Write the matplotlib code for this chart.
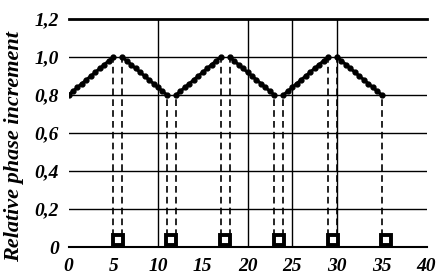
import matplotlib
matplotlib.use("Agg")
import matplotlib.pyplot as plt

# Segments of the phase-increment curve (x, y)
seg_x = [
    [0, 0.5, 1, 1.5, 2, 2.5, 3, 3.5, 4, 4.5, 5],
    [6, 6.5, 7, 7.5, 8, 8.5, 9, 9.5, 10, 10.5, 11],
    [12, 12.5, 13, 13.5, 14, 14.5, 15, 15.5, 16, 16.5, 17],
    [18, 18.5, 19, 19.5, 20, 20.5, 21, 21.5, 22, 22.5, 23],
    [24, 24.5, 25, 25.5, 26, 26.5, 27, 27.5, 28, 28.5, 29],
    [30, 30.5, 31, 31.5, 32, 32.5, 33, 33.5, 34, 34.5, 35],
]
rise = [0.80, 0.82, 0.84, 0.86, 0.88, 0.90, 0.92, 0.94, 0.96, 0.98, 1.00]
fall = [1.00, 0.98, 0.96, 0.94, 0.92, 0.90, 0.88, 0.86, 0.84, 0.82, 0.80]
seg_y = [rise, fall, rise, fall, rise, fall]

# Dashed drop lines (x, top value)
drop_x = [5, 6, 11, 12, 17, 18, 23, 24, 29, 30, 35]
drop_top = [1.0, 1.0, 0.8, 0.8, 1.0, 1.0, 0.8, 0.8, 1.0, 1.0, 0.8]

# Square markers near the axis
sq_x = [5.5, 11.5, 17.5, 23.5, 29.5, 35.5]
sq_y = [0.035, 0.035, 0.035, 0.035, 0.035, 0.035]

vlines_x = [10, 20, 25, 30]
y_ticks = [0, 0.2, 0.4, 0.6, 0.8, 1.0, 1.2]
y_labels = ["0", "0,2", "0,4", "0,6", "0,8", "1,0", "1,2"]
x_ticks = [0, 5, 10, 15, 20, 25, 30, 35, 40]
x_labels = ["0", "5", "10", "15", "20", "25", "30", "35", "40"]

plt.rcParams['font.family'] = ['Liberation Serif', 'DejaVu Serif']

fig = plt.figure(figsize=(4.37, 2.76), dpi=100)
ax = fig.add_axes([68.5/437, 29/276, 358/437, 228/276])
ax.set_xlim(0, 40)
ax.set_ylim(0, 1.2)

for yv in y_ticks[1:-1]:
    ax.axhline(yv, color='black', lw=1.0, zorder=1)
ax.axhline(1.2, color='black', lw=2.0, zorder=1, clip_on=False)
ax.axhline(0, color='black', lw=1.5, zorder=1, clip_on=False)
for xv in vlines_x:
    ax.axvline(xv, color='black', lw=1.0, zorder=1)

for xd, yt in zip(drop_x, drop_top):
    ax.plot([xd, xd], [0.06, yt], color='black', lw=1.2, ls=(0, (4, 2.5)), zorder=2)

for xs, ys in zip(seg_x, seg_y):
    ax.plot(xs, ys, color='black', lw=2.2, marker='o', ms=3.5, zorder=3)

ax.plot(sq_x, sq_y, ls='none', marker='s', ms=7, mfc='white', mec='black', mew=2.8, zorder=4)

for s in ax.spines.values():
    s.set_visible(False)
ax.set_yticks(y_ticks)
ax.set_yticklabels(y_labels)
ax.set_xticks(x_ticks)
ax.set_xticklabels(x_labels)
ax.tick_params(length=0, labelsize=14)
ax.tick_params(axis='x', pad=8)
ax.tick_params(axis='y', pad=7)
for lbl in ax.get_xticklabels() + ax.get_yticklabels():
    lbl.set_fontstyle('italic')
    lbl.set_fontweight('bold')
for lbl in ax.get_xticklabels():
    lbl.set_x(lbl.get_position()[0])
fig.text(14/437, (276-147)/276, "Relative phase increment", rotation=90,
         fontsize=16, fontstyle='italic', fontweight='bold',
         ha='center', va='center')

fig.savefig("out.png", dpi=100)
